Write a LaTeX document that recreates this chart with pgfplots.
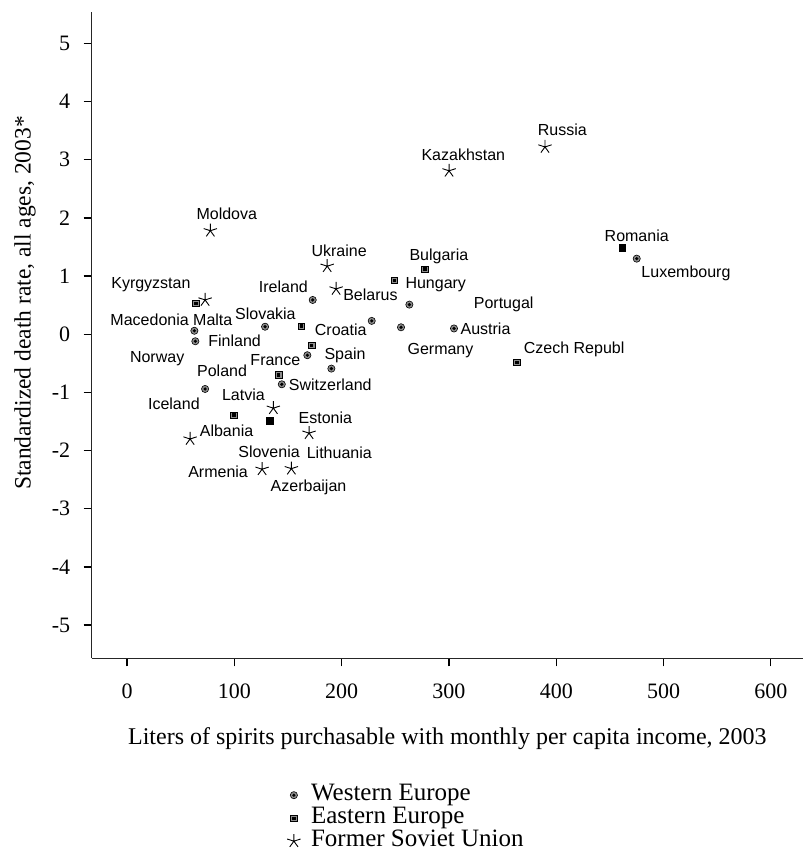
\documentclass[border=0pt]{standalone}
\usepackage{fontspec}
\setmainfont{Liberation Serif}
\newfontfamily\namefont{Liberation Sans}
\usepackage{pgfplots}
\pgfplotsset{compat=1.18}

% grey disc with a black centre
\pgfdeclareplotmark{ringdot}{%
  \pgfpathcircle{\pgfpointorigin}{\pgfplotmarksize}%
  \pgfsetfillcolor{black!45}%
  \pgfusepathqfillstroke
  \pgfpathcircle{\pgfpointorigin}{0.5\pgfplotmarksize}%
  \pgfsetfillcolor{black}%
  \pgfusepathqfill
}
% grey square with a black centre
\pgfdeclareplotmark{boxdot}{%
  \pgfpathrectangle{\pgfpoint{-\pgfplotmarksize}{-\pgfplotmarksize}}{\pgfpoint{2\pgfplotmarksize}{2\pgfplotmarksize}}%
  \pgfsetfillcolor{black!45}%
  \pgfusepathqfillstroke
  \pgfpathrectangle{\pgfpoint{-0.5\pgfplotmarksize}{-0.5\pgfplotmarksize}}{\pgfpoint{\pgfplotmarksize}{\pgfplotmarksize}}%
  \pgfsetfillcolor{black}%
  \pgfusepathqfill
}

\tikzset{name node/.style={font=\namefont\fontsize{16}{18}\selectfont, inner sep=0pt}}

\begin{document}
\begin{tikzpicture}
\useasboundingbox (-91.7pt,-197.7pt) rectangle (711.3pt,658.3pt);
\begin{axis}[
  scale only axis, width=711.3pt, height=646.3pt,
  xmin=-33, xmax=630, ymin=-5.57, ymax=5.54,
  axis x line=bottom, axis y line=left,
  axis line style={-, line width=1.3pt, black!85},
  xtick={0,100,...,600}, ytick={-5,-4,...,5},
  xticklabels={0,100,200,300,400,500,600},
  yticklabels={-5,-4,-3,-2,-1,0,1,2,3,4,5},
  tick align=outside, major tick length=8pt,
  tick style={line width=1.3pt, black},
  ticklabel style={font=\fontsize{22}{26}\selectfont},
  xticklabel style={yshift=-14pt},
  yticklabel style={xshift=-10pt},
  xlabel={Liters of spirits purchasable with monthly per capita income, 2003},
  ylabel={Standardized death rate, all ages, 2003*},
  xlabel style={at={(axis description cs:0.5,-0.1238)}, anchor=center, font=\fontsize{24}{28}\selectfont},
  ylabel style={at={(axis description cs:-0.0938,0.5497)}, anchor=center, font=\fontsize{23.5}{28}\selectfont},
  clip=false,
  legend style={draw=none, fill=none, inner sep=0pt, at={(axis description cs:0.2746,-0.1937)}, anchor=north west,
    font=\fontsize{25}{28}\selectfont, row sep=0pt, column sep=3pt,
    nodes={inner sep=0pt, text height=17pt, text depth=6pt}},
  legend cell align=left,
  legend image code/.code={\path (0pt,0pt) (20pt,0pt); \draw[#1] plot coordinates {(6pt,0pt)};},
]
% Western Europe
\addplot[only marks, mark=ringdot, mark size=3.6pt, mark options={draw=black, line width=0.6pt}] coordinates {
  (173.0,0.59) (128.6,0.13) (62.7,0.06) (63.6,-0.12) (228.0,0.23)
  (168.0,-0.36) (190.4,-0.59) (144.2,-0.86) (72.7,-0.94) (475.0,1.30)
  (263.1,0.51) (255.3,0.12) (304.7,0.10)
};
\addlegendentry{Western Europe}
% Eastern Europe
\addplot[only marks, mark=boxdot, mark size=3.3pt, mark options={draw=black, line width=0.6pt}] coordinates {
  (64.3,0.53) (162.4,0.14) (172.1,-0.19) (141.4,-0.70) (99.7,-1.39)
  (277.7,1.12) (249.1,0.93) (363.4,-0.48)
};
\addlegendentry{Eastern Europe}
\addplot[only marks, forget plot, mark=square*, mark size=3.3pt, mark options={draw=black, fill=black}] coordinates {
  (133.0,-1.49) (461.6,1.49)
};
% Former Soviet Union
\addplot[only marks, mark=star, mark size=7pt, mark options={draw=black, line width=0.9pt}] coordinates {
  (389.5,3.22) (300.1,2.81) (77.6,1.78) (186.5,1.17) (194.8,0.78)
  (72.7,0.59) (136.3,-1.27) (169.6,-1.70) (58.7,-1.80) (125.8,-2.32)
  (153.1,-2.31)
};
\addlegendentry{Former Soviet Union}

% country names
\node[name node] at (axis cs:405.6,3.51) {Russia};
\node[name node] at (axis cs:313.4,3.093) {Kazakhstan};
\node[name node] at (axis cs:92.9,2.066) {Moldova};
\node[name node] at (axis cs:197.6,1.435) {Ukraine};
\node[name node] at (axis cs:475.0,1.693) {Romania};
\node[name node] at (axis cs:520.9,1.047) {Luxembourg};
\node[name node] at (axis cs:290.6,1.332) {Bulgaria};
\node[name node] at (axis cs:287.7,0.858) {Hungary};
\node[name node] at (axis cs:351.0,0.514) {Portugal};
\node[name node] at (axis cs:334.1,0.101) {Austria};
\node[name node] at (axis cs:292.1,-0.284) {Germany};
\node[name node] at (axis cs:416.7,-0.260) {Czech Republ};
\node[name node] at (axis cs:22.2,0.846) {Kyrgyzstan};
\node[name node] at (axis cs:145.7,0.817) {Ireland};
\node[name node] at (axis cs:226.8,0.674) {Belarus};
\node[name node] at (axis cs:41.3,0.244) {Macedonia Malta};
\node[name node] at (axis cs:128.9,0.359) {Slovakia};
\node[name node] at (axis cs:199.1,0.072) {Croatia};
\node[name node] at (axis cs:100.2,-0.117) {Finland};
\node[name node] at (axis cs:28.0,-0.414) {Norway};
\node[name node] at (axis cs:138.2,-0.444) {France};
\node[name node] at (axis cs:203.1,-0.370) {Spain};
\node[name node] at (axis cs:88.5,-0.633) {Poland};
\node[name node] at (axis cs:189.4,-0.861) {Switzerland};
\node[name node] at (axis cs:108.4,-1.033) {Latvia};
\node[name node] at (axis cs:43.6,-1.200) {Iceland};
\node[name node] at (axis cs:184.8,-1.429) {Estonia};
\node[name node] at (axis cs:92.7,-1.659) {Albania};
\node[name node] at (axis cs:132.3,-2.020) {Slovenia};
\node[name node] at (axis cs:197.8,-2.030) {Lithuania};
\node[name node] at (axis cs:84.8,-2.364) {Armenia};
\node[name node] at (axis cs:169.1,-2.627) {Azerbaijan};
\end{axis}
\end{tikzpicture}
\end{document}
